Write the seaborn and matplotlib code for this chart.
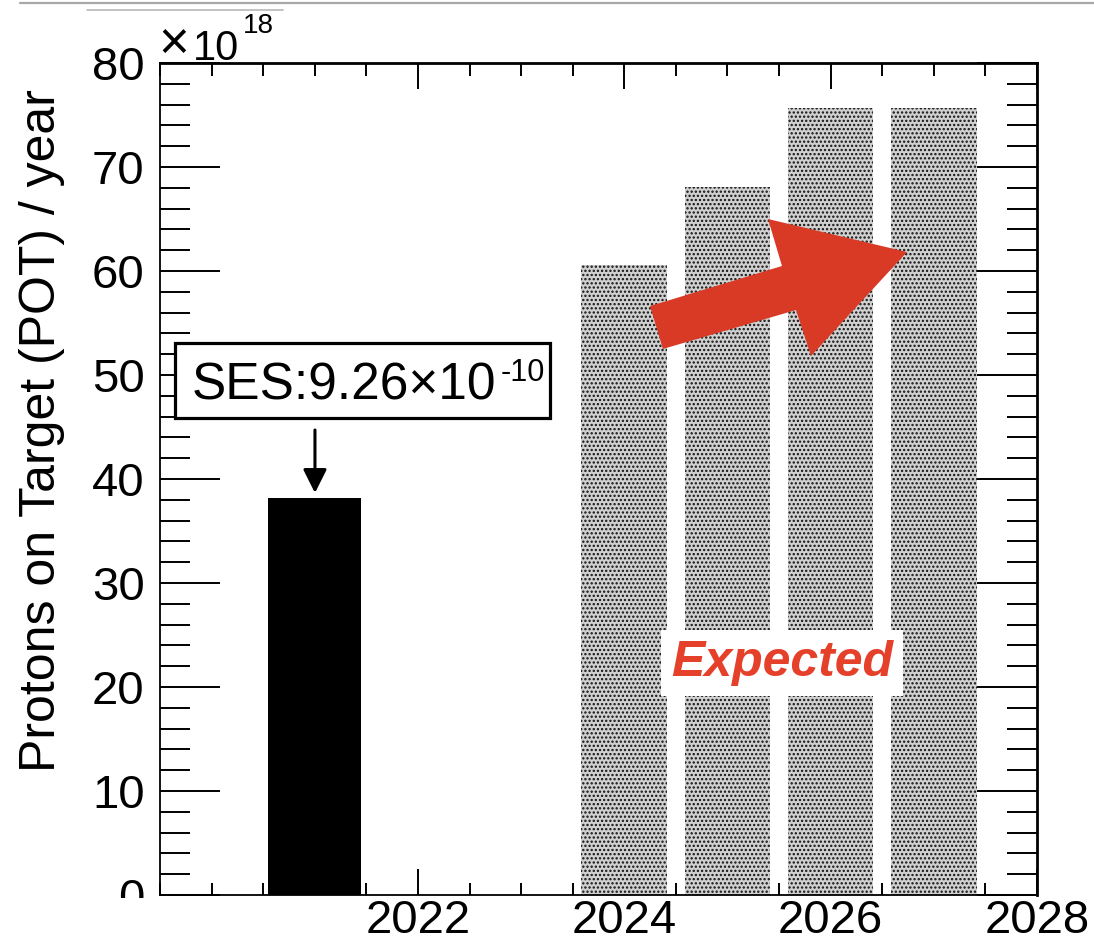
import numpy as np
import pandas as pd
import matplotlib
matplotlib.use("Agg")
import matplotlib.pyplot as plt
import seaborn as sns
from matplotlib.patches import Polygon, Rectangle
from matplotlib.lines import Line2D
from matplotlib.ticker import MultipleLocator, FixedLocator

# ---- data ----
measured_years = [2021]
measured_pot = [38.2]          # x 1e18
expected_years = [2024, 2025, 2026, 2027]
expected_pot = [60.6, 68.1, 75.7, 75.7]   # x 1e18
x_major_ticks = [2022, 2024, 2026, 2028]
y_major_ticks = [0, 10, 20, 30, 40, 50, 60, 70, 80]
y_label = "Protons on Target (POT) / year"
scale_times = "×"
scale_base = "10"
scale_exp = "18"
ses_base = "SES:9.26×10"
ses_exp = "-10"
expected_label = "Expected"

# ---- style ----
sns.set_style("ticks")
plt.rcParams["font.family"] = ["Liberation Sans", "DejaVu Sans"]
plt.rcParams["hatch.linewidth"] = 1.1

W, H = 1094, 944
fig = plt.figure(figsize=(W / 100, H / 100), dpi=100)
ax = fig.add_axes([160 / W, 49 / H, 877 / W, 832 / H])

sns.barplot(x=measured_years, y=measured_pot, native_scale=True, width=0.9,
            color="black", saturation=1, errorbar=None, ax=ax, linewidth=0)
sns.barplot(x=expected_years, y=expected_pot, native_scale=True, width=0.83,
            color="#d0d0d0", saturation=1, errorbar=None, ax=ax,
            hatch="....", edgecolor="#111111", linewidth=0)

ax.set_xlim(2019.5, 2028)
ax.set_ylim(0, 80)
ax.set_xlabel("")
ax.set_ylabel("")
ax.xaxis.set_major_locator(FixedLocator(x_major_ticks))
ax.xaxis.set_minor_locator(MultipleLocator(0.5))
ax.yaxis.set_major_locator(FixedLocator(y_major_ticks))
ax.yaxis.set_minor_locator(MultipleLocator(2))
ax.set_xticklabels([str(t) for t in x_major_ticks])
ax.set_yticklabels([str(t) for t in y_major_ticks])

ax.tick_params(which="both", direction="in", top=True, right=True,
               color="black", width=1.4, labelsize=34, labelcolor="black")
ax.tick_params(axis="y", which="major", length=43, pad=11)
ax.tick_params(axis="y", which="minor", length=21.5)
ax.tick_params(axis="x", which="major", length=18.5, pad=3)
ax.tick_params(axis="x", which="minor", length=9)
for side, lw in [("left", 1.3), ("bottom", 1.3), ("top", 2.0), ("right", 2.0)]:
    ax.spines[side].set_visible(True)
    ax.spines[side].set_linewidth(lw)
    ax.spines[side].set_color("black")

# y axis title (ROOT-style, aligned towards top)
fig.text(42 / W, 1 - 431 / H, y_label, rotation=90, ha="center", va="center",
         fontsize=36, color="black")

# exponent marker
ax.text(-0.002, 1.004, scale_times, transform=ax.transAxes, fontsize=38,
        ha="left", va="baseline", color="black")
ax.text(0.037, 1.004, scale_base, transform=ax.transAxes, fontsize=30,
        ha="left", va="baseline", color="black")
ax.text(0.0946, 1.036, scale_exp, transform=ax.transAxes, fontsize=20,
        ha="left", va="baseline", color="black")

# SES box
ax.add_patch(Rectangle((0.0171, 0.5733), 0.4276, 0.0902, transform=ax.transAxes,
                       facecolor="white", edgecolor="black", lw=2.3, zorder=6))
ax.text(0.0365, 0.595, ses_base, transform=ax.transAxes, fontsize=37,
        ha="left", va="baseline", color="black", zorder=7)
ax.text(0.388, 0.6175, ses_exp, transform=ax.transAxes, fontsize=22,
        ha="left", va="baseline", color="black", zorder=7)
ax.annotate("", xy=(0.1767, 0.4832), xytext=(0.1767, 0.5589),
            xycoords="axes fraction", textcoords="axes fraction",
            arrowprops=dict(arrowstyle="-|>,head_length=0.72,head_width=0.36",
                            mutation_scale=20, color="black", lw=2.2,
                            shrinkA=0, shrinkB=0), zorder=7)

# big red arrow
arrow_pts = [(0.5587, 0.7079), (0.5735, 0.6563), (0.7252, 0.7031),
             (0.7423, 0.6478), (0.8518, 0.7728), (0.6933, 0.8125),
             (0.7092, 0.7560)]
ax.add_patch(Polygon(arrow_pts, closed=True, transform=ax.transAxes,
                     facecolor="#d93a26", edgecolor="none", zorder=6))

# Expected label
ax.text(0.7092, 0.2788, expected_label, transform=ax.transAxes, fontsize=36,
        fontweight="bold", fontstyle="italic", color="#e5402a",
        ha="center", va="center", zorder=7,
        bbox=dict(boxstyle="square,pad=0.2", facecolor="white", edgecolor="none"))

# screenshot framing lines at top
fig.add_artist(Line2D([20 / W, 1.0], [1 - 3 / H, 1 - 3 / H], color="#a8a8a8",
                      lw=1.6, transform=fig.transFigure))
fig.add_artist(Line2D([87 / W, 283 / W], [1 - 10 / H, 1 - 10 / H], color="#b8b8b8",
                      lw=1.2, transform=fig.transFigure))
# crop edge hiding lower part of the "0" label
fig.add_artist(Rectangle((0, 0), 150 / W, 46 / H, transform=fig.transFigure,
                         facecolor="white", edgecolor="none", zorder=10))

fig.savefig("out.png", dpi=100, facecolor="white")
